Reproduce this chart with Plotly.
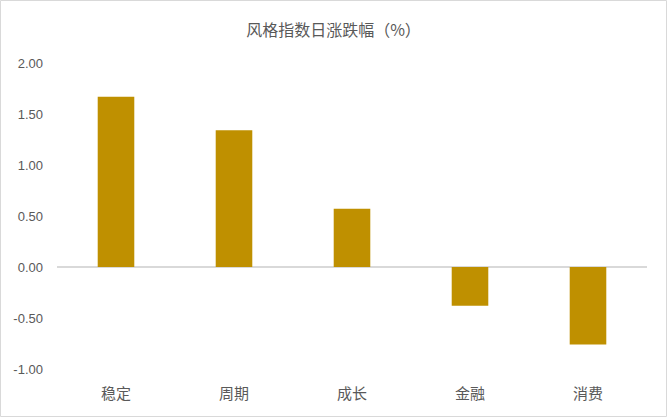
import plotly.graph_objects as go

categories = ["稳定", "周期", "成长", "金融", "消费"]
values = [1.67, 1.34, 0.57, -0.38, -0.76]
tick_vals = [2.0, 1.5, 1.0, 0.5, 0.0, -0.5, -1.0]
tick_text = ["2.00", "1.50", "1.00", "0.50", "0.00", "-0.50", "-1.00"]
title_text = "风格指数日涨跌幅（%）"

W, H = 667, 417
ml, mr, mt, mb = 57, 20, 63, 48
pw, ph = W - ml - mr, H - mt - mb

fig = go.Figure(go.Bar(
    x=categories, y=values,
    marker=dict(color="#BF9000", line=dict(width=0)),
    width=0.31,
))

fig.update_layout(
    width=W, height=H,
    margin=dict(l=ml, r=mr, t=mt, b=mb, pad=0),
    paper_bgcolor="white", plot_bgcolor="white",
    font=dict(family="Noto Sans CJK SC, Noto Sans, sans-serif", color="#595959"),
    title=dict(text=title_text, x=0.5, xanchor="center", y=1 - 30 / H, yanchor="middle",
               font=dict(size=16, color="#595959")),
    showlegend=False,
    xaxis=dict(showgrid=False, showline=False, ticks="", tickfont=dict(size=15, color="#595959"),
               ticklabelstandoff=14),
    yaxis=dict(range=[-1.0, 2.0], tickvals=tick_vals, ticktext=tick_text, showgrid=False,
               zeroline=True, zerolinecolor="#D9D9D9", zerolinewidth=1.5, showline=False,
               tickfont=dict(size=13, color="#595959", family="Liberation Sans, sans-serif"),
               ticklabelstandoff=13),
    shapes=[dict(type="rect", xref="paper", yref="paper",
                 x0=(-ml + 0.5) / pw, x1=(W - ml - 0.5) / pw,
                 y0=(-mb + 0.5) / ph, y1=(H - mb - 0.5) / ph,
                 line=dict(color="#D9D9D9", width=1), layer="below")],
)

fig.write_html("out.html")
